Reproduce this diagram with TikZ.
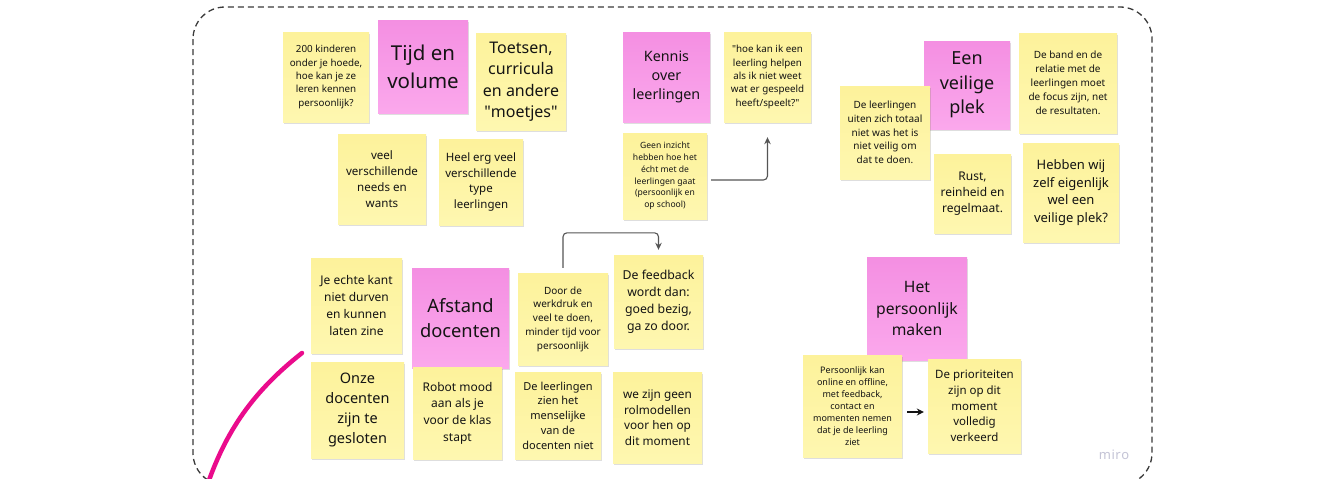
\documentclass[tikz,border=0pt]{standalone}
\usepackage{fontspec}
\setmainfont{Noto Sans}
\usetikzlibrary{shadows,arrows.meta,calc}

\definecolor{ink}{HTML}{141414}
\definecolor{yelT}{HTML}{FDF29B}
\definecolor{yelB}{HTML}{FEF7B0}
\definecolor{pinkT}{HTML}{F48FE2}
\definecolor{pinkB}{HTML}{FBA8EC}
\definecolor{frameC}{HTML}{3A3A3A}
\definecolor{connC}{HTML}{555555}
\definecolor{markerC}{HTML}{EA0B8C}
\definecolor{miroC}{HTML}{C4C4D6}

\newcommand\sz[2]{\fontsize{#1pt}{#2pt}\selectfont}
\newcommand\dq{\textquotedbl}

\tikzset{
  note/.style={inner sep=0pt, align=center, text=ink,
    drop shadow={shadow xshift=0.6pt, shadow yshift=-2pt, opacity=0.13, fill=black}},
  ynote/.style={note, top color=yelT, bottom color=yelB},
  pnote/.style={note, top color=pinkT, bottom color=pinkB},
  conn/.style={draw=connC, line width=1.1pt, rounded corners=4pt,
    -{Stealth[length=7pt,width=6.5pt]}},
  frame/.style={draw=frameC, line width=1.3pt, dash pattern=on 6pt off 4pt,
    rounded corners=32pt},
}

\begin{document}
\begin{tikzpicture}[x=1pt,y=-1pt]
\useasboundingbox (0,0) rectangle (1334,479);
\fill[white] (0,0) rectangle (1334,479);
\clip (0,0) rectangle (1334,479);

% board frame
\draw[frame] (193,7) rectangle (1152,485);

% --- Tijd en volume
\node[ynote, minimum width=86pt, minimum height=90pt, font=\sz{9.8}{13.3}] (k200) at (326,77)
  {200 kinderen\\onder je hoede,\\hoe kan je ze\\leren kennen\\persoonlijk?};
\node[pnote, minimum width=90pt, minimum height=93pt, font=\sz{20.5}{28}] (tijd) at (423,66.5)
  {Tijd en\\volume};
\node[ynote, minimum width=90pt, minimum height=97pt, font=\sz{16}{21.5}] (toetsen) at (521,81.5)
  {Toetsen,\\curricula\\en andere\\\dq moetjes\dq};
\node[ynote, minimum width=88pt, minimum height=90pt, font=\sz{11.6}{16}] (needs) at (382,179)
  {veel\\verschillende\\needs en\\wants};
\node[ynote, minimum width=84pt, minimum height=86pt, font=\sz{11.5}{15.7}] (types) at (481,182)
  {Heel erg veel\\verschillende\\type\\leerlingen};

% --- Kennis over leerlingen
\node[pnote, minimum width=87pt, minimum height=90pt, font=\sz{14.3}{19.3}] (kennis) at (666.5,77)
  {Kennis\\over\\leerlingen};
\node[ynote, minimum width=87pt, minimum height=90pt, font=\sz{9.8}{13.3}] (hoekan) at (767.5,77)
  {\dq hoe kan ik een\\leerling helpen\\als ik niet weet\\wat er gespeeld\\heeft/speelt?\dq};
\node[ynote, minimum width=84pt, minimum height=86pt, font=\sz{8.6}{11.7}] (inzicht) at (665,176)
  {Geen inzicht\\hebben hoe het\\écht met de\\leerlingen gaat\\(persoonlijk en\\op school)};
\draw[conn] ([xshift=4pt,yshift=-4pt]inzicht.east) -| ([yshift=-15pt]hoekan.south);

% --- Een veilige plek
\node[pnote, minimum width=86pt, minimum height=88pt, font=\sz{18}{24.5}] (veilig) at (967,85)
  {Een\\veilige\\plek};
\node[ynote, minimum width=98pt, minimum height=100pt, font=\sz{10}{14}] (band) at (1068,83)
  {De band en de\\relatie met de\\leerlingen moet\\de focus zijn, net\\de resultaten.};
\node[ynote, minimum width=90pt, minimum height=93pt, font=\sz{10}{13.7}] (uiten) at (885,132.5)
  {De leerlingen\\uiten zich totaal\\niet was het is\\niet veilig om\\dat te doen.};
\node[ynote, minimum width=77pt, minimum height=79pt, font=\sz{12}{16.3}] (rust) at (972.5,193.5)
  {Rust,\\reinheid en\\regelmaat.};
\node[ynote, minimum width=96pt, minimum height=99pt, font=\sz{13}{17.7}] (hebben) at (1071,192.5)
  {Hebben wij\\zelf eigenlijk\\wel een\\veilige plek?};

% --- Afstand docenten
\node[ynote, minimum width=91pt, minimum height=95pt, font=\sz{12}{16.7}] (echte) at (356.5,305.5)
  {Je echte kant\\niet durven\\en kunnen\\laten zine};
\node[pnote, minimum width=97pt, minimum height=100pt, font=\sz{18.3}{25}] (afstand) at (460.5,318)
  {Afstand\\docenten};
\node[ynote, minimum width=93pt, minimum height=96pt, font=\sz{14.5}{20.3}] (onze) at (357.5,410)
  {Onze\\docenten\\zijn te\\gesloten};
\node[ynote, minimum width=89pt, minimum height=92pt, font=\sz{12}{16.7}] (robot) at (457.5,413)
  {Robot mood\\aan als je\\voor de klas\\stapt};
\node[ynote, minimum width=90pt, minimum height=92pt, font=\sz{10}{13.7}] (werkdruk) at (563,319)
  {Door de\\werkdruk en\\veel te doen,\\minder tijd voor\\persoonlijk};
\node[ynote, minimum width=89pt, minimum height=93pt, font=\sz{12.3}{17}] (feedback) at (658.5,301.5)
  {De feedback\\wordt dan:\\goed bezig,\\ga zo door.};
\node[ynote, minimum width=86pt, minimum height=87pt, font=\sz{11}{14.7}] (mens) at (558,415.5)
  {De leerlingen\\zien het\\menselijke\\van de\\docenten niet};
\node[ynote, minimum width=89pt, minimum height=91pt, font=\sz{11.8}{15.5}] (rol) at (657.5,417.5)
  {we zijn geen\\rolmodellen\\voor hen op\\dit moment};
\draw[conn] ([yshift=5pt]werkdruk.north) |- ([yshift=22pt]feedback.north)
  -- ([yshift=5pt]feedback.north);

% --- Het persoonlijk maken
\node[pnote, minimum width=100pt, minimum height=103pt, font=\sz{15.7}{21.7}] (maken) at (917,308.5)
  {Het\\persoonlijk\\maken};
\node[ynote, minimum width=99pt, minimum height=102pt, font=\sz{9}{12}] (online) at (852.5,406)
  {Persoonlijk kan\\online en offline,\\met feedback,\\contact en\\momenten nemen\\dat je de leerling\\ziet};
\node[ynote, minimum width=93pt, minimum height=94pt, font=\sz{11.5}{15.7}] (prior) at (974.5,406)
  {De prioriteiten\\zijn op dit\\moment\\volledig\\verkeerd};
\draw[draw=ink, line width=1.8pt, -{Stealth[length=7pt,width=7pt]}]
  ([xshift=5pt,yshift=-6pt]online.east) -- ([xshift=-4pt,yshift=-6pt]prior.west);

% free-hand marker stroke
\draw[markerC, line width=4.5pt, line cap=round]
  (302,353) .. controls (255,390) and (225,430) .. (205,492);

% board watermark
\node[text=miroC, font=\sz{13}{15}] (miro) at (1114,455) {m\kern0.5pt i\kern0.5pt r\kern0.5pt o};
\end{tikzpicture}
\end{document}
